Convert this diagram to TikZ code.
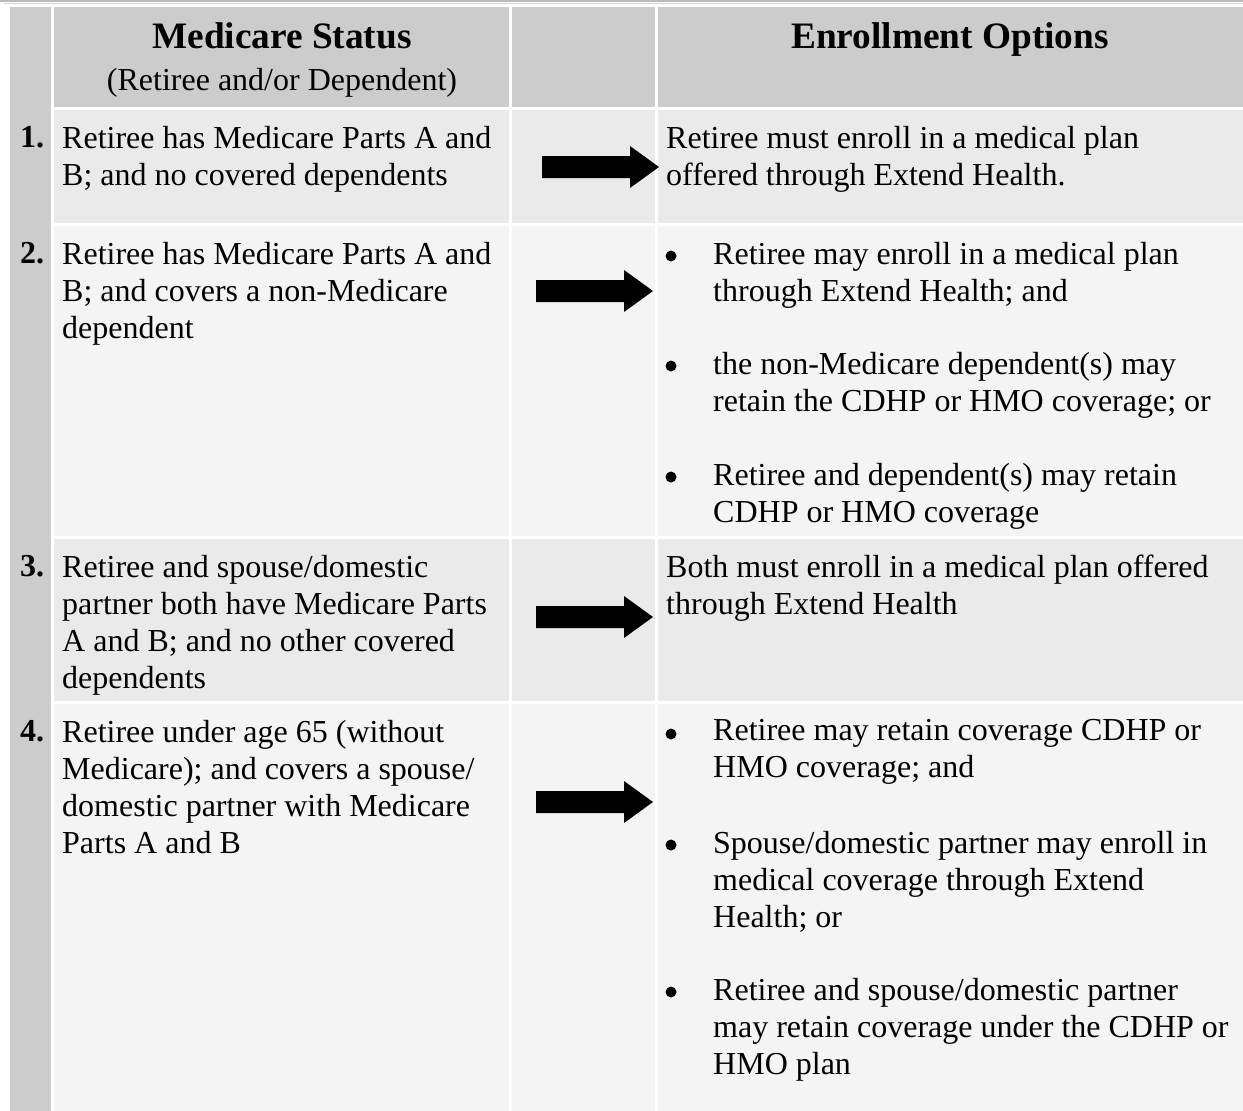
\documentclass[tikz,border=0pt]{standalone}
\usepackage{fontspec}
\setmainfont{Liberation Serif}
\definecolor{headgray}{HTML}{CCCCCC}
\definecolor{rowdark}{HTML}{EAEAEA}
\definecolor{rowlight}{HTML}{F4F4F4}
\definecolor{rulegray}{HTML}{BBBBBB}

\begin{document}
\begin{tikzpicture}[x=1pt,y=-1pt,
  cell text/.style={anchor=north west,yshift=20.4pt,inner sep=0pt,align=left,
    font=\fontsize{32}{37}\selectfont,execute at begin node=\strut},
  num text/.style={anchor=base west,inner sep=0pt,font=\fontsize{32}{37}\selectfont\bfseries},
  head text/.style={anchor=base,inner sep=0pt,font=\fontsize{37.3}{43}\selectfont\bfseries},
  sub text/.style={anchor=base,inner sep=0pt,font=\fontsize{32}{37}\selectfont},
  block arrow/.pic={\fill[black] (0,-11) -- (88,-11) -- (88,-21) -- (117,0) -- (88,21) -- (88,11) -- (0,11) -- cycle;}]
\useasboundingbox (0,0) rectangle (1243,1111);

% Top rules
\fill[rulegray] (0,0) rectangle (1243,2);
\fill[rulegray!60] (4,3) rectangle (1243,4);

% Number column
\fill[headgray] (10,7) rectangle (51,1111);

% Header row
\fill[headgray] (54,7) rectangle (509,107);
\fill[headgray] (512,7) rectangle (655,107);
\fill[headgray] (658,7) rectangle (1243,107);

% Row 1
\fill[rowdark] (54,110) rectangle (509,223);
\fill[rowdark] (512,110) rectangle (655,223);
\fill[rowdark] (658,110) rectangle (1243,223);

% Row 2
\fill[rowlight] (54,226) rectangle (509,536);
\fill[rowlight] (512,226) rectangle (655,536);
\fill[rowlight] (658,226) rectangle (1243,536);

% Row 3
\fill[rowdark] (54,539) rectangle (509,701);
\fill[rowdark] (512,539) rectangle (655,701);
\fill[rowdark] (658,539) rectangle (1243,701);

% Row 4
\fill[rowlight] (54,704) rectangle (509,1111);
\fill[rowlight] (512,704) rectangle (655,1111);
\fill[rowlight] (658,704) rectangle (1243,1111);

% Headings
\node[head text] (stathead) at (282,48) {Medicare Status};
\node[sub text] (statsub) at (282,90) {(Retiree and/or Dependent)};
\node[head text] (opthead) at (950,48) {Enrollment Options};

% Numbers
\node[num text] (num1) at (20,147) {1.};
\node[num text] (num2) at (20,263) {2.};
\node[num text] (num3) at (20,576) {3.};
\node[num text] (num4) at (20,741) {4.};

% Status column
\node[cell text] (stat1) at (62,146) {Retiree has Medicare Parts A and\\B; and no covered dependents};
\node[cell text] (stat2) at (62,262) {Retiree has Medicare Parts A and\\B; and covers a non-Medicare\\dependent};
\node[cell text] (stat3) at (62,575) {Retiree and spouse/domestic\\partner both have Medicare Parts\\A and B; and no other covered\\dependents};
\node[cell text] (stat4) at (62,740) {Retiree under age 65 (without\\Medicare); and covers a spouse/\\domestic partner with Medicare\\Parts A and B};

% Arrows
\pic at (542,167) {block arrow};
\pic at (536,291) {block arrow};
\pic at (536,617) {block arrow};
\pic at (536,802) {block arrow};

% Options column
\node[cell text] (opt1) at (666,146) {Retiree must enroll in a medical plan\\offered through Extend Health.};

\fill (671,256) circle (5.5);
\node[cell text] (opt2a) at (713,262) {Retiree may enroll in a medical plan\\through Extend Health; and};
\fill (671,366) circle (5.5);
\node[cell text] (opt2b) at (713,372) {the non-Medicare dependent(s) may\\retain the CDHP or HMO coverage; or};
\fill (671,477) circle (5.5);
\node[cell text] (opt2c) at (713,483) {Retiree and dependent(s) may retain\\CDHP or HMO coverage};

\node[cell text] (opt3) at (666,575) {Both must enroll in a medical plan offered\\through Extend Health};

\fill (671,734) circle (5.5);
\node[cell text] (opt4a) at (713,740) {Retiree may retain coverage CDHP or\\HMO coverage; and};
\fill (671,845) circle (5.5);
\node[cell text] (opt4b) at (713,851) {Spouse/domestic partner may enroll in\\medical coverage through Extend\\Health; or};
\fill (671,992) circle (5.5);
\node[cell text] (opt4c) at (713,998) {Retiree and spouse/domestic partner\\may retain coverage under the CDHP or\\HMO plan};

\end{tikzpicture}
\end{document}
